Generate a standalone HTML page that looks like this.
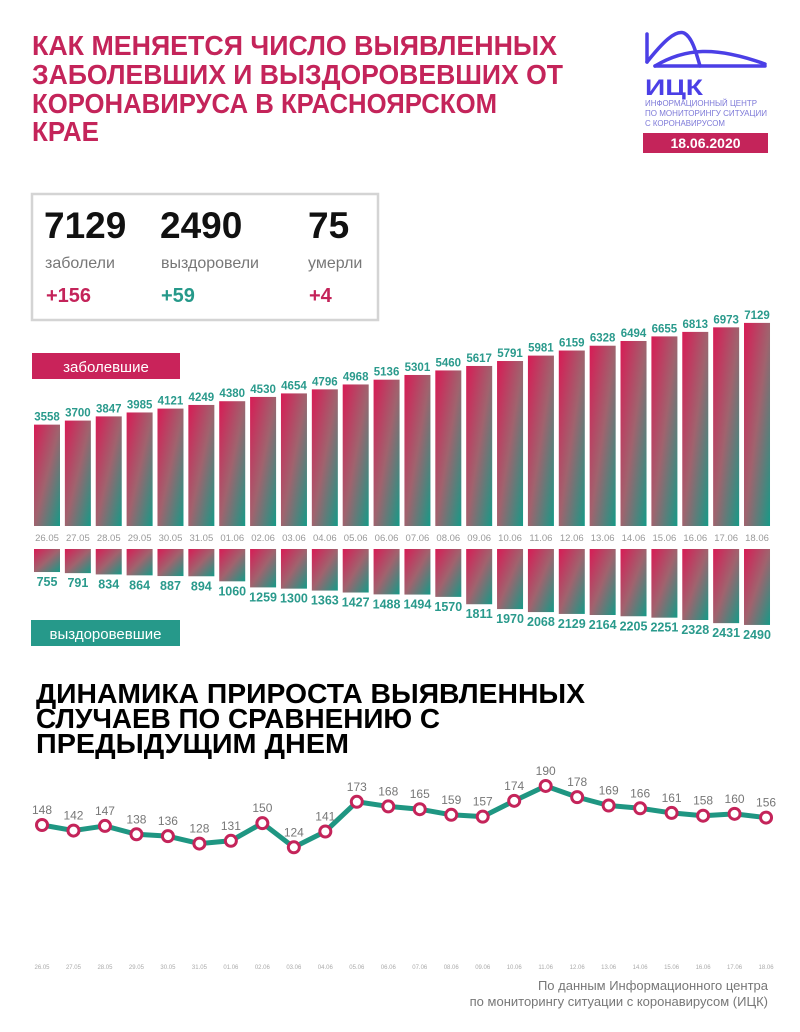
<!DOCTYPE html>
<html><head><meta charset="utf-8"><style>
html,body{margin:0;padding:0;background:#fff}
svg{display:block}
text{font-family:"Liberation Sans",sans-serif}
</style></head><body>
<svg width="800" height="1032" viewBox="0 0 800 1032" xmlns="http://www.w3.org/2000/svg">
<defs>
<linearGradient id="g" x1="0" y1="0" x2="1" y2="1">
<stop offset="0" stop-color="#d81b55"/><stop offset="0.5" stop-color="#a0636e"/><stop offset="1" stop-color="#159a87"/>
</linearGradient>
</defs>
<g font-weight="bold" fill="#c4245a" font-size="28">
<text x="32" y="55" textLength="525" lengthAdjust="spacingAndGlyphs">КАК МЕНЯЕТСЯ ЧИСЛО ВЫЯВЛЕННЫХ</text>
<text x="32" y="84" textLength="531" lengthAdjust="spacingAndGlyphs">ЗАБОЛЕВШИХ И ВЫЗДОРОВЕВШИХ ОТ</text>
<text x="32" y="113" textLength="465" lengthAdjust="spacingAndGlyphs">КОРОНАВИРУСА В КРАСНОЯРСКОМ</text>
<text x="32" y="141" textLength="67" lengthAdjust="spacingAndGlyphs">КРАЕ</text>
</g>
<!-- logo -->
<g stroke="#4b3fe6" stroke-width="3.5" fill="none" stroke-linecap="round">
<path d="M647 34 V62"/>
<path d="M647 62 C663 42 675 30 684 33 C692 37 696 52 700 66"/>
<path d="M655 66 C685 48 715 46 765 64"/>
<path d="M655 66 H765"/>
</g>
<text x="645" y="95" font-size="22" font-weight="bold" fill="#4b3fe6" textLength="58" lengthAdjust="spacingAndGlyphs">ИЦК</text>
<g font-size="8" fill="#7d79d8">
<text x="645" y="106" textLength="112" lengthAdjust="spacingAndGlyphs">ИНФОРМАЦИОННЫЙ ЦЕНТР</text>
<text x="645" y="116" textLength="122" lengthAdjust="spacingAndGlyphs">ПО МОНИТОРИНГУ СИТУАЦИИ</text>
<text x="645" y="126" textLength="80" lengthAdjust="spacingAndGlyphs">С КОРОНАВИРУСОМ</text>
</g>
<rect x="643" y="133" width="125" height="20" fill="#c4245a"/>
<text x="705.5" y="148" font-size="14" font-weight="bold" fill="#fff" text-anchor="middle">18.06.2020</text>
<!-- stats box -->
<rect x="32" y="194" width="346" height="126" fill="#fff" stroke="#d4d4d4" stroke-width="2.5"/>
<g font-weight="bold" font-size="37" fill="#111">
<text x="44" y="238">7129</text><text x="160" y="238">2490</text><text x="308" y="238">75</text>
</g>
<g font-size="16" fill="#777">
<text x="45" y="268">заболели</text><text x="161" y="268">выздоровели</text><text x="308" y="268">умерли</text>
</g>
<g font-weight="bold" font-size="20">
<text x="46" y="302" fill="#c4245a">+156</text><text x="161" y="302" fill="#26998a">+59</text><text x="309" y="302" fill="#c4245a">+4</text>
</g>
<rect x="32" y="353" width="148" height="26" fill="#c9235a"/>
<text x="106" y="372" font-size="15" fill="#fff" text-anchor="middle">заболевшие</text>
<rect x="31" y="620" width="149" height="26" fill="#26998a"/>
<text x="105.5" y="639" font-size="15" fill="#fff" text-anchor="middle">выздоровевшие</text>
<g id="bars"></g>
<g id="line"></g>
<g font-weight="bold" fill="#000" font-size="28">
<text x="36" y="703" textLength="549" lengthAdjust="spacingAndGlyphs">ДИНАМИКА ПРИРОСТА ВЫЯВЛЕННЫХ</text>
<text x="36" y="728" textLength="404" lengthAdjust="spacingAndGlyphs">СЛУЧАЕВ ПО СРАВНЕНИЮ С</text>
<text x="36" y="753" textLength="313" lengthAdjust="spacingAndGlyphs">ПРЕДЫДУЩИМ ДНЕМ</text>
</g>
<g font-size="13" fill="#777" text-anchor="end">
<text x="768" y="990">По данным Информационного центра</text>
<text x="768" y="1006">по мониторингу ситуации с коронавирусом (ИЦК)</text>
</g>
</svg>
<script>
var ns="http://www.w3.org/2000/svg";
var dates=["26.05","27.05","28.05","29.05","30.05","31.05","01.06","02.06","03.06","04.06","05.06","06.06","07.06","08.06","09.06","10.06","11.06","12.06","13.06","14.06","15.06","16.06","17.06","18.06"];
var top_=[3558,3700,3847,3985,4121,4249,4380,4530,4654,4796,4968,5136,5301,5460,5617,5791,5981,6159,6328,6494,6655,6813,6973,7129];
var bot=[755,791,834,864,887,894,1060,1259,1300,1363,1427,1488,1494,1570,1811,1970,2068,2129,2164,2205,2251,2328,2431,2490];
var inc=[148,142,147,138,136,128,131,150,124,141,173,168,165,159,157,174,190,178,169,166,161,158,160,156];
function el(t,a,txt,p){var e=document.createElementNS(ns,t);for(var k in a)e.setAttribute(k,a[k]);if(txt!=null)e.textContent=txt;p.appendChild(e);return e;}
var B=document.getElementById("bars");
for(var i=0;i<24;i++){
 var x=34+i*30.87,cx=x+13;
 var h=top_[i]*0.02849;
 el("rect",{x:x,y:526-h,width:26,height:h,fill:"url(#g)"},null,B);
 el("text",{x:cx,y:526-h-4,"font-size":"11.5","font-weight":"bold",fill:"#2a9a8c","text-anchor":"middle"},top_[i],B);
 el("text",{x:cx,y:541,"font-size":"9.5",fill:"#999","text-anchor":"middle"},dates[i],B);
 var h2=bot[i]*0.0305;
 el("rect",{x:x,y:549,width:26,height:h2,fill:"url(#g)"},null,B);
 el("text",{x:cx,y:549+h2+14,"font-size":"12.5","font-weight":"bold",fill:"#2a9a8c","text-anchor":"middle"},bot[i],B);
}
var L=document.getElementById("line");var pts=[];
for(var i=0;i<24;i++){pts.push([42+i*31.48,825-(inc[i]-148)*0.929]);}
el("polyline",{points:pts.map(function(p){return p.join(",")}).join(" "),fill:"none",stroke:"#1f9682","stroke-width":"5","stroke-linejoin":"round"},null,L);
for(var i=0;i<24;i++){
 el("circle",{cx:pts[i][0],cy:pts[i][1],r:5.5,fill:"#fff",stroke:"#c4245a","stroke-width":"3"},null,L);
 el("text",{x:pts[i][0],y:pts[i][1]-11,"font-size":"12",fill:"#777","text-anchor":"middle"},inc[i],L);
 el("text",{x:pts[i][0],y:969,"font-size":"6",fill:"#aaa","text-anchor":"middle"},dates[i],L);
}
</script>
</body></html>
